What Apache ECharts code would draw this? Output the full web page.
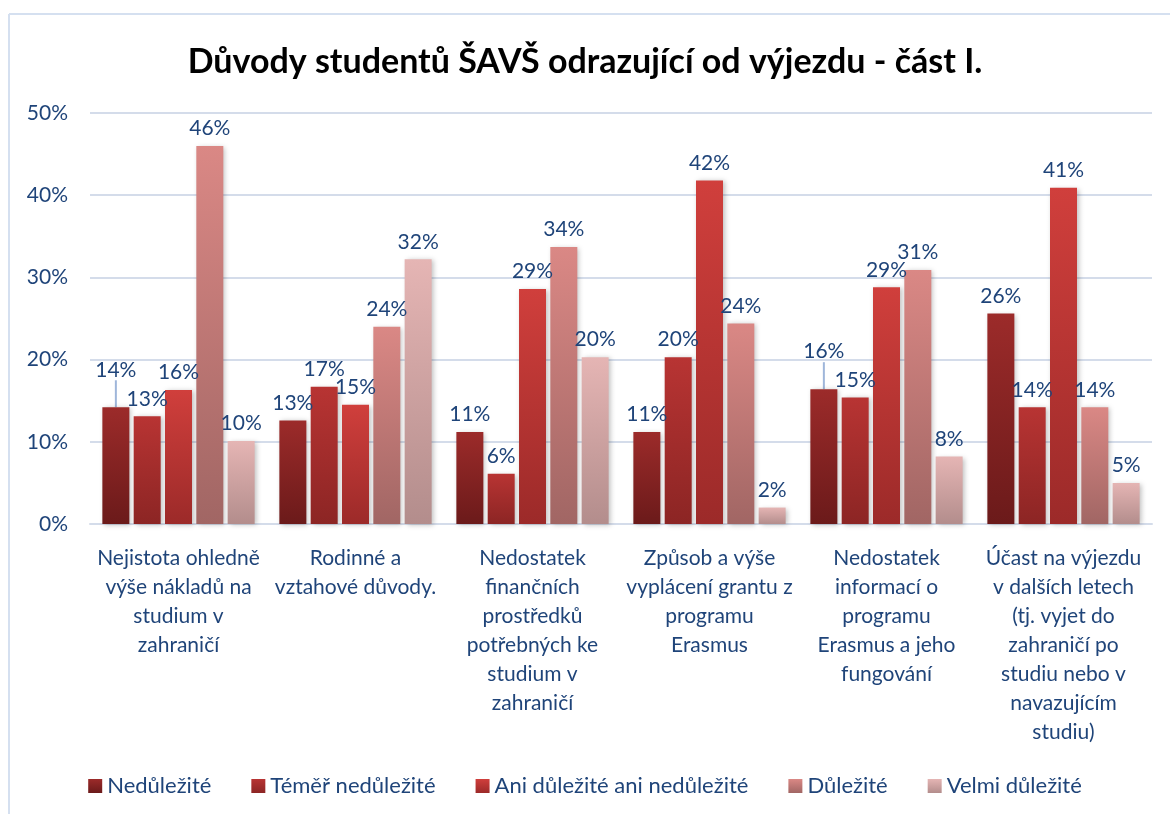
<!DOCTYPE html>
<html>
<head>
<meta charset="utf-8">
<script src="https://cdn.jsdelivr.net/npm/echarts@6/dist/echarts.min.js"></script>
<style>
  html, body { margin: 0; padding: 0; background: #fff; }
  #chart { width: 1170px; height: 814px; }
</style>
</head>
<body>
<div id="chart"></div>
<script>
const categories = [
  'Nejistota ohledně\nvýše nákladů na\nstudium v\nzahraničí',
  'Rodinné a\nvztahové důvody.',
  'Nedostatek\nfinančních\nprostředků\npotřebných ke\nstudium v\nzahraničí',
  'Způsob a výše\nvyplácení grantu z\nprogramu\nErasmus',
  'Nedostatek\ninformací o\nprogramu\nErasmus a jeho\nfungování',
  'Účast na výjezdu\nv dalších letech\n(tj. vyjet do\nzahraničí po\nstudiu nebo v\nnavazujícím\nstudiu)',
];
const seriesNames = ['Nedůležité', 'Téměř nedůležité', 'Ani důležité ani nedůležité', 'Důležité', 'Velmi důležité'];
const nedulezite = [14.2, 12.6, 11.2, 11.2, 16.4, 25.6];
const temerNedulezite = [13.1, 16.7, 6.1, 20.3, 15.4, 14.2];
const aniAni = [16.3, 14.5, 28.6, 41.8, 28.8, 40.9];
const dulezite = [46.0, 24.0, 33.7, 24.4, 30.9, 14.2];
const velmiDulezite = [10.1, 32.2, 20.3, 2.0, 8.2, 5.0];
const yTicks = [0, 10, 20, 30, 40, 50];

const values = [nedulezite, temerNedulezite, aniAni, dulezite, velmiDulezite];
const gradients = [
  ['#9c2b2a', '#6b1a1a'],
  ['#b83433', '#8c2524'],
  ['#d03f3c', '#9c2a29'],
  ['#da8885', '#a16664'],
  ['#e5b5b4', '#b38d8c'],
];
// labels that were dragged up in the original (series 0, categories 0 and 4)
const raisedLabels = [0, 4];
const textColor = '#1f4479';
const font = 'Lato, "Open Sans", sans-serif';

const myChart = echarts.init(document.getElementById('chart'));
const option = {
  backgroundColor: '#fff',
  title: {
    text: 'Důvody studentů ŠAVŠ odrazující od výjezdu - část I.',
    left: 'center',
    top: 40,
    textStyle: { fontFamily: font, fontSize: 34, fontWeight: 'bold', color: '#000' },
  },
  graphic: [
    { type: 'line', shape: { x1: 9, y1: 14, x2: 1170, y2: 14 }, style: { stroke: '#d5e0f0', lineWidth: 2 } },
    { type: 'line', shape: { x1: 9, y1: 14, x2: 9, y2: 814 }, style: { stroke: '#d5e0f0', lineWidth: 2 } },
  ],
  grid: { left: 90, right: 18, top: 113, bottom: 290 },
  legend: {
    bottom: 12,
    left: 'center',
    itemWidth: 14,
    itemHeight: 14,
    itemGap: 40,
    icon: 'rect',
    data: seriesNames,
    textStyle: { fontFamily: font, fontSize: 22, color: textColor },
  },
  xAxis: {
    type: 'category',
    data: categories,
    axisTick: { show: false },
    axisLine: { lineStyle: { color: '#d4dcea', width: 2 } },
    axisLabel: {
      interval: 0,
      margin: 20,
      fontFamily: font,
      fontSize: 21,
      lineHeight: 29,
      color: textColor,
      align: 'center',
    },
  },
  yAxis: {
    type: 'value',
    min: yTicks[0],
    max: yTicks[yTicks.length - 1],
    interval: 10,
    axisLine: { show: false },
    axisTick: { show: false },
    splitLine: { lineStyle: { color: '#d4dcea', width: 2 } },
    axisLabel: {
      margin: 22,
      fontFamily: font,
      fontSize: 21,
      color: textColor,
      formatter: v => v + '%',
    },
  },
  series: values.map((vals, i) => ({
    name: seriesNames[i],
    type: 'bar',
    data: vals.map((v, j) => (i === 0 && raisedLabels.indexOf(j) >= 0
      ? { value: v, labelLine: { show: true } }
      : v)),
    barWidth: 27,
    barGap: '16%',
    barCategoryGap: '13%',
    itemStyle: {
      color: new echarts.graphic.LinearGradient(0, 0, 0, 1, [
        { offset: 0, color: gradients[i][0] },
        { offset: 1, color: gradients[i][1] },
      ]),
      shadowColor: 'rgba(0,0,0,0.25)',
      shadowBlur: 5,
      shadowOffsetX: 2,
      shadowOffsetY: 1,
    },
    label: {
      show: true,
      position: 'top',
      distance: 7,
      fontFamily: font,
      fontSize: 21,
      color: textColor,
      formatter: p => Math.round(p.value) + '%',
    },
    labelLine: {
      show: false,
      lineStyle: { color: '#9fb6da', width: 2 },
    },
    labelLayout: i === 0
      ? params => (raisedLabels.indexOf(params.dataIndex) >= 0 ? { dy: -20 } : {})
      : undefined,
  })),
};
myChart.setOption(option, true);
</script>
</body>
</html>
